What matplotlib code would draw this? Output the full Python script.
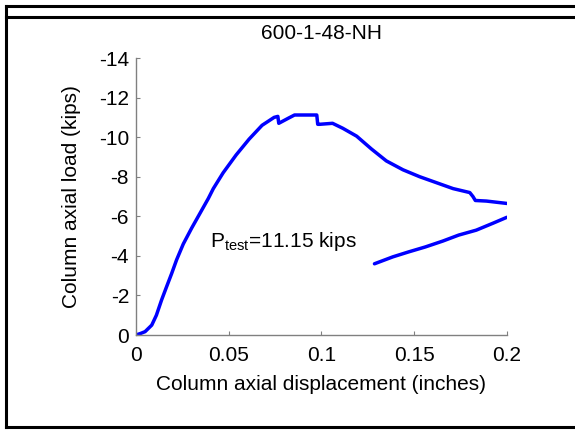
import matplotlib
matplotlib.use('Agg')
import matplotlib.pyplot as plt
from matplotlib.lines import Line2D

plt.rcParams['font.family'] = ['Liberation Sans', 'DejaVu Sans']
plt.rcParams['mathtext.fontset'] = 'custom'
plt.rcParams['mathtext.rm'] = 'Liberation Sans'
plt.rcParams['axes.unicode_minus'] = False

# loading branch (displacement in inches, axial load in kips)
disp_up = [0.0, 0.0025, 0.0049, 0.0085, 0.011, 0.0138, 0.0165, 0.0192, 0.0219,
           0.0255, 0.030, 0.0345, 0.0363, 0.039, 0.0417, 0.047, 0.054, 0.061,
           0.068, 0.0745, 0.0765, 0.077, 0.082, 0.0855, 0.0975, 0.098, 0.099,
           0.106, 0.1115, 0.119, 0.127, 0.135, 0.144, 0.153, 0.162, 0.171,
           0.180, 0.1817, 0.183, 0.189, 0.2]
load_up = [0.0, -0.08, -0.17, -0.5, -1.0, -1.77, -2.44, -3.1, -3.8,
           -4.6, -5.4, -6.15, -6.45, -6.9, -7.4, -8.2, -9.1, -9.9,
           -10.6, -11.0, -11.05, -10.7, -10.95, -11.12, -11.12, -10.65, -10.65,
           -10.7, -10.45, -10.05, -9.4, -8.8, -8.35, -8.0, -7.7, -7.4,
           -7.2, -7.0, -6.8, -6.77, -6.65]

# return branch
disp_back = [0.1286, 0.1385, 0.147, 0.156, 0.1655, 0.174, 0.1835, 0.1925, 0.2]
load_back = [-3.6, -3.95, -4.2, -4.45, -4.75, -5.05, -5.3, -5.65, -5.95]

xticks = [0, 0.05, 0.1, 0.15, 0.2]
xtick_labels = ['0', '0.05', '0.1', '0.15', '0.2']
yticks = [0, -2, -4, -6, -8, -10, -12, -14]

fig = plt.figure(figsize=(5.75, 4.33), dpi=100)
ax = fig.add_axes([0.2365, 0.2263, 0.645, 0.6397])

ax.plot(disp_up, load_up, color='#0000ff', lw=2.5, solid_capstyle='round')
ax.plot(disp_back, load_back, color='#0000ff', lw=2.5, solid_capstyle='round')

ax.set_xlim(0, 0.2)
ax.set_ylim(0, -14)
ax.set_xticks(xticks)
ax.set_xticklabels(xtick_labels)
ax.set_yticks(yticks)

for s in ['top', 'right']:
    ax.spines[s].set_visible(False)
for s in ['left', 'bottom']:
    ax.spines[s].set_color('#808080')
    ax.spines[s].set_linewidth(1.0)
ax.tick_params(direction='in', length=3, width=0.8, color='#808080',
               labelsize=15)
ax.tick_params(axis='x', pad=8)
ax.tick_params(axis='y', pad=5)

ax.set_title('600-1-48-NH', fontsize=15, pad=14)
ax.set_xlabel('Column axial displacement (inches)', fontsize=15, labelpad=7)
ax.set_ylabel('Column axial load (kips)', fontsize=15, labelpad=13)

ax.text(0.04, -4.75, r'P$_{\mathrm{test}}$=11.15 kips', fontsize=15,
        va='center', ha='left')

# outer frame
kw = dict(color='black', lw=2.2, transform=fig.transFigure)
fig.add_artist(Line2D([6/575, 1.02], [1-6/433, 1-6/433], **kw))
fig.add_artist(Line2D([6/575, 1.02], [1-17/433, 1-17/433], **kw))
fig.add_artist(Line2D([6/575, 1.02], [1-427/433, 1-427/433], **kw))
fig.add_artist(Line2D([6/575, 6/575], [1-6/433, 1-427/433], **kw))

fig.savefig('out.png', dpi=100)
